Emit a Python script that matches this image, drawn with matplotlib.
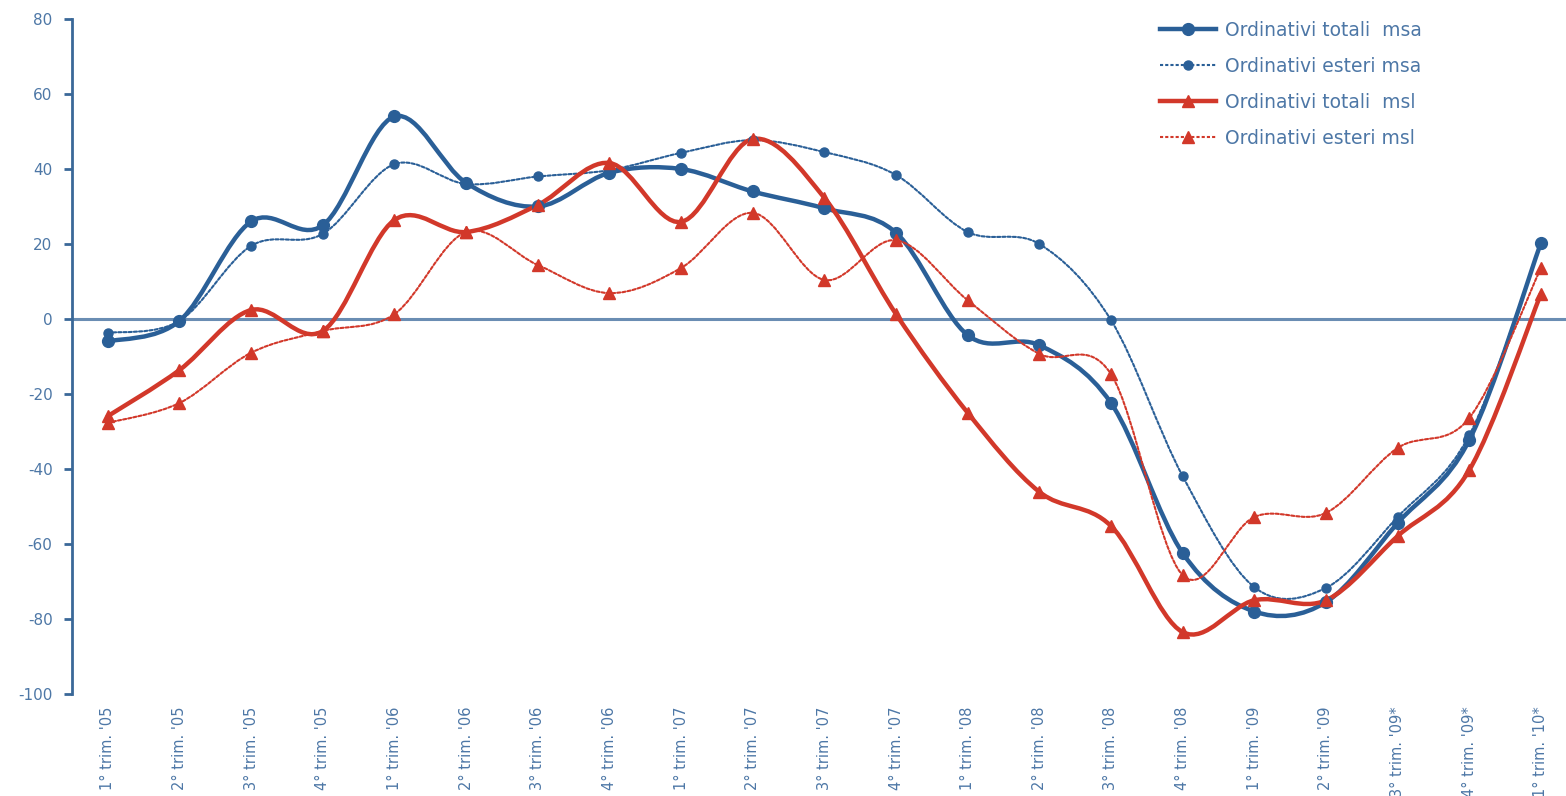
import matplotlib
matplotlib.use("Agg")
from matplotlib import pyplot as plt
from matplotlib.path import Path
from matplotlib.patches import PathPatch
from matplotlib.lines import Line2D
import numpy as np

plt.rcParams["axes.unicode_minus"] = False

# quarters on the x axis
quarters = ["1° trim. '05", "2° trim. '05", "3° trim. '05", "4° trim. '05",
            "1° trim. '06", "2° trim. '06", "3° trim. '06", "4° trim. '06",
            "1° trim. '07", "2° trim. '07", "3° trim. '07", "4° trim. '07",
            "1° trim. '08", "2° trim. '08", "3° trim. '08", "4° trim. '08",
            "1° trim. '09", "2° trim. '09", "3° trim. '09*", "4° trim. '09*",
            "1° trim. '10*"]

totali_msa = [-6, -0.5, 26, 25, 54, 36.3, 30, 39, 40, 34, 29.5, 23,
              -4.3, -7, -22.4, -62.4, -78, -75.5, -54.4, -32.3, 20.3]
esteri_msa = [-3.7, -0.5, 19.5, 22.7, 41.3, 36, 38, 39.7, 44.3, 47.7, 44.5, 38.4,
              23.2, 20, -0.3, -41.9, -71.5, -71.7, -52.8, -31, 20]
totali_msl = [-25.9, -13.6, 2.4, -3.2, 26.4, 23.2, 30.4, 41.6, 25.9, 48, 32.3, 1.3,
              -25, -46.1, -55.2, -83.5, -75, -75, -57.9, -40.3, 6.7]
esteri_msl = [-27.7, -22.4, -9, -3.2, 1.3, 23.2, 14.4, 6.9, 13.6, 28.3, 10.4, 21,
              5, -9.3, -14.7, -68.3, -52.8, -51.7, -34.4, -26.4, 13.6]

labels = ["Ordinativi totali  msa", "Ordinativi esteri msa",
          "Ordinativi totali  msl", "Ordinativi esteri msl"]

blue = "#2a5f97"
red = "#d2382a"
axis_col = "#3a6898"
text_col = "#4d77a6"


def smooth(x, y):
    # bezier path through the points, like the office "smoothed line"
    verts = [(x[0], y[0])]
    codes = [Path.MOVETO]
    n = len(x)
    for i in range(n - 1):
        a = max(i - 1, 0)
        b = min(i + 2, n - 1)
        c1 = (x[i] + (x[i + 1] - x[a]) / 6, y[i] + (y[i + 1] - y[a]) / 6)
        c2 = (x[i + 1] - (x[b] - x[i]) / 6, y[i + 1] - (y[b] - y[i]) / 6)
        verts += [c1, c2, (x[i + 1], y[i + 1])]
        codes += [Path.CURVE4] * 3
    return Path(verts, codes)


fig = plt.figure(figsize=(15.66, 7.96), dpi=100)
ax = fig.add_axes([72 / 1566, 1 - 694 / 796, 1 - 72 / 1566, (694 - 19) / 796])

x = np.arange(len(quarters))
ax.axhline(0, color="#6a8db3", lw=2.2, zorder=1)

series = [
    (totali_msa, blue, "-", 3.2, "o", 8.5),
    (esteri_msa, blue, (0, (1.5, 1)), 1.5, "o", 6.5),
    (totali_msl, red, "-", 3.2, "^", 9),
    (esteri_msl, red, (0, (1.5, 1)), 1.5, "^", 8),
]

handles = []
for (vals, col, ls, lw, mk, ms), lab in zip(series, labels):
    ax.add_patch(PathPatch(smooth(x, vals), fill=False, edgecolor=col,
                           lw=lw, linestyle=ls, capstyle="round", zorder=2))
    ax.plot(x, vals, linestyle="none", marker=mk, ms=ms, color=col, zorder=3)
    handles.append(Line2D([], [], color=col, lw=lw, linestyle=ls,
                          marker=mk, ms=ms, label=lab))

ax.set_xlim(-0.5, 20.35)
ax.set_ylim(-100, 80)
ax.set_yticks(np.arange(-100, 81, 20))
ax.set_xticks(x)
ax.set_xticklabels(quarters, rotation=90, va="top", ha="center",
                   fontsize=10.5, color=text_col)

for s in ["top", "right", "bottom"]:
    ax.spines[s].set_visible(False)
ax.spines["left"].set_color(axis_col)
ax.spines["left"].set_linewidth(2)
ax.tick_params(axis="y", colors=axis_col, width=2, length=6,
               labelsize=11, labelcolor=text_col, pad=8)
ax.tick_params(axis="x", length=0, pad=9)

fig.legend(handles=handles, loc="upper left",
           bbox_to_anchor=(1160 / 1566, 1 - 21 / 796),
           frameon=False, fontsize=13.5, labelcolor=text_col,
           handlelength=3.0, handletextpad=0.45, labelspacing=0.9,
           borderpad=0, borderaxespad=0)

fig.savefig("out.png", dpi=100)
